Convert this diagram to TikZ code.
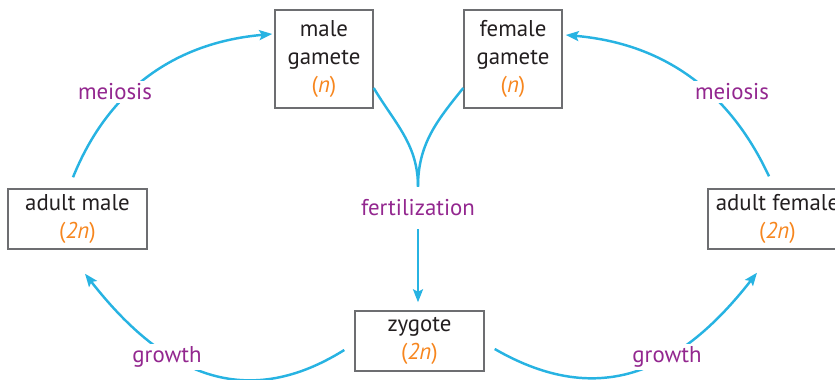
\documentclass[tikz,border=0pt]{standalone}
\usepackage{fontspec}
\setmainfont{PT Sans}
\usepackage{xcolor}
\usepackage{tikz}
\usetikzlibrary{arrows.meta}
\definecolor{Cycle}  {HTML}{27B3E2}
\definecolor{Process}{HTML}{93278F}
\definecolor{Ploidy} {HTML}{F7861E}
\definecolor{Frame}  {HTML}{6D6E71}
\definecolor{Ink}    {HTML}{231F20}
\newcommand{\ploidy}[1]{\textcolor{Ploidy}{(\textit{#1})}}
\tikzset{
  stage/.style={draw=Frame, line width=0.8pt, fill=white, text=Ink,
                align=center, inner sep=0pt, font=\fontsize{13}{16}\selectfont},
  process/.style={text=Process, fill=white, inner sep=1.5pt,
                  font=\fontsize{13}{16}\selectfont},
  cyc/.style={Cycle, line width=1.4pt,
              -{Stealth[length=0.26cm, width=0.2cm, inset=0.05cm]}},
}

\begin{document}
\begin{tikzpicture}
  \useasboundingbox (0,0) rectangle (16.7,7.6);
  % Stages
  \node[stage, minimum width=1.96cm, minimum height=1.96cm] (mgam)   at (6.48,6.42)  {male\\gamete\\\ploidy{n}};
  \node[stage, minimum width=1.96cm, minimum height=1.96cm] (fgam)   at (10.26,6.42) {female\\gamete\\\ploidy{n}};
  \node[stage, minimum width=2.78cm, minimum height=1.2cm]  (adultm) at (1.55,3.22)  {adult male\\\ploidy{2n}};
  \node[stage, minimum width=2.78cm, minimum height=1.2cm]  (adultf) at (15.55,3.22) {adult female\\\ploidy{2n}};
  \node[stage, minimum width=2.58cm, minimum height=1.2cm]  (zyg)    at (8.39,0.78)  {zygote\\\ploidy{2n}};
  \node[process, fill=none, inner ysep=0.25cm] (fert) at (8.36,3.44) {fertilization};
  % Arrows
  \draw[cyc] ([xshift=-0.09cm, yshift=0.22cm]adultm.north) to[out=68, in=185] ([xshift=-0.04cm, yshift=0.5cm]mgam.west);
  \draw[cyc] ([xshift=-0.17cm, yshift=0.24cm]adultf.north) to[out=115, in=-5] ([xshift=0.06cm, yshift=0.48cm]fgam.east);
  \draw[Cycle, line width=1.4pt] ([yshift=-0.58cm]mgam.east) to[out=-59, in=90] (fert.north);
  \draw[Cycle, line width=1.4pt] ([yshift=-0.58cm]fgam.west) to[out=231, in=90] (fert.north);
  \draw[cyc, shorten >=0.16cm] (fert.south) -- (fert.south |- zyg.north);
  \draw[cyc] ([xshift=-0.2cm, yshift=-0.18cm]zyg.west) to[out=212, in=-52, looseness=1.15] ([xshift=0.15cm, yshift=-0.48cm]adultm.south);
  \draw[cyc] ([xshift=0.2cm, yshift=-0.16cm]zyg.east) to[out=-30, in=232, looseness=1.15] ([xshift=-0.41cm, yshift=-0.46cm]adultf.south);
  % Labels on the arrows
  \node[process] (meim) at (2.3,5.76)   {meiosis};
  \node[process] (meif) at (14.64,5.76) {meiosis};
  \node[process] (grom) at (3.34,0.46)  {growth};
  \node[process] (grof) at (13.34,0.46) {growth};
\end{tikzpicture}
\end{document}
